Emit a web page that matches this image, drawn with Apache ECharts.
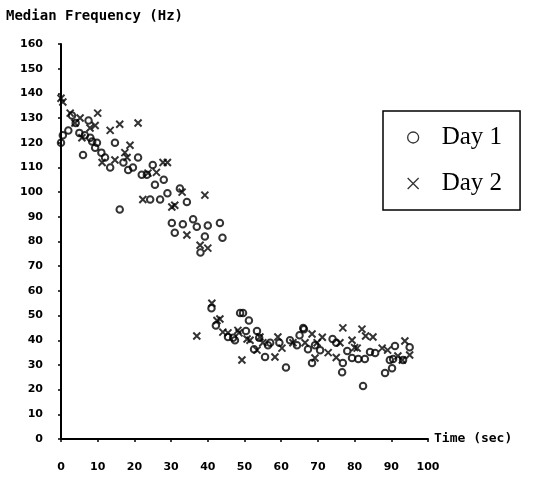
<!DOCTYPE html>
<html>
<head>
<meta charset="utf-8">
<script src="https://cdn.jsdelivr.net/npm/echarts@6/dist/echarts.min.js"></script>
<style>
  html, body { margin: 0; padding: 0; background: #fff; }
  #chart { width: 545px; height: 477px; }
</style>
</head>
<body>
<div id="chart"></div>
<script>
// Day 1 (circles): [time sec, median frequency Hz]
const day1 = [
  [0, 120], [0.5, 123], [2, 125], [3, 131], [4, 128], [5, 124], [6.5, 123], [7.5, 129],
  [8, 122], [8.5, 120.5], [9.3, 118], [9.8, 120], [6, 115], [14.7, 120], [11, 116], [12, 114],
  [13.4, 110], [17, 112], [18.3, 109], [19.6, 110], [21, 114], [22, 107], [23.4, 107], [25, 111],
  [28, 105], [25.6, 103], [29, 99.5], [32.4, 101.5], [34.3, 96], [24.3, 97], [27, 97], [16, 93],
  [30.2, 87.5], [33.2, 87], [36, 89], [37, 86], [40, 86.5], [43.3, 87.5], [31, 83.5], [39.2, 82],
  [44, 81.5], [38, 75.5],
  [41, 53], [42.2, 46], [48.8, 51], [49.6, 51], [51.2, 48], [45.5, 41.3], [46.9, 41], [47.4, 40],
  [50.4, 43.7], [53.4, 43.7], [52.6, 36.4], [55.6, 33.2], [61.3, 29], [57, 39], [59.5, 39],
  [62.4, 40], [64.3, 38], [65, 42], [66.2, 44.5], [68.4, 30.8], [67.3, 36.4], [69.2, 38],
  [70.6, 36], [74, 40.5], [75, 39], [76.6, 27], [78, 35.6], [79.3, 32.8], [81, 32.4],
  [82.8, 32.4], [76.8, 30.8], [82.3, 21.5], [84.2, 35.2], [85.6, 34.8], [91, 37.7], [95, 37.2],
  [89.6, 32], [90.5, 32.4], [88.3, 26.7], [90.2, 28.7], [93.2, 32], [54, 41], [56.4, 38], [66, 45]
];

// Day 2 (crosses)
const day2 = [
  [0, 138], [0.5, 136.5], [2.5, 132], [3.8, 128], [5.2, 130], [5.7, 122], [7.9, 126], [9.3, 127],
  [10, 132], [13.4, 125], [16, 127.5], [21, 128], [11.2, 112], [14.7, 113], [17.4, 116],
  [18.8, 119], [18, 114], [23.7, 107.7], [26, 108], [27.8, 112], [29, 112], [22.3, 97], [33, 100],
  [30.2, 94], [31, 94.7], [39.2, 98.8], [34.3, 82.6], [37.9, 78.5], [40, 77.3],
  [37, 41.7], [41.1, 55], [42.5, 48], [43.3, 48.6], [44.1, 43.3], [45.5, 43], [48.2, 44],
  [48.5, 43], [50.7, 40.5], [51.5, 40], [49.3, 32], [53.4, 36], [54.2, 41.3], [55, 39],
  [58.3, 33.2], [59.1, 41.3], [60.2, 36.8], [63.2, 39], [66.5, 39], [68.4, 42.5], [69.2, 32.8],
  [71.2, 41.2], [69.8, 39], [72.8, 35], [75, 33], [76, 39], [76.8, 45], [79.3, 40], [80, 37],
  [82, 44.5], [83, 41.7], [85, 41.3], [80.7, 36.8], [87.5, 36.8], [89, 36], [93.7, 39.7],
  [91.8, 33.6], [93, 32], [95, 34]
];

const seriesNames = ['Day 1', 'Day 2'];
const titleText = 'Median Frequency (Hz)';
const xName = 'Time (sec)';

const pixelFont = 'DejaVu Sans Mono';
const labelFont = 'DejaVu Sans';

const chart = echarts.init(document.getElementById('chart'));

const option = {
  backgroundColor: '#fff',
  animation: false,
  title: {
    text: titleText,
    left: 1,
    top: 4,
    textStyle: { fontFamily: pixelFont, fontWeight: 'bold', fontSize: 14, color: '#000' }
  },
  legend: {
    orient: 'vertical',
    left: 383,
    top: 111,
    padding: [14, 18, 14, 24],
    itemGap: 21,
    itemWidth: 11,
    itemHeight: 11,
    borderColor: '#000',
    borderWidth: 1.5,
    borderRadius: 0,
    data: seriesNames,
    itemStyle: { borderWidth: 1.3 },
    textStyle: {
      fontFamily: 'Liberation Serif',
      fontSize: 25,
      color: '#000',
      padding: [0, 0, 0, 18]
    }
  },
  grid: { left: 61, right: 117, top: 44, bottom: 38 },
  xAxis: {
    type: 'value',
    min: 0,
    max: 100,
    interval: 10,
    name: xName,
    nameLocation: 'end',
    nameGap: 6,
    nameTextStyle: { fontFamily: pixelFont, fontWeight: 'bold', fontSize: 13, color: '#000', verticalAlign: 'middle', padding: [8, 0, 0, 0] },
    axisLine: { lineStyle: { color: '#000', width: 2 } },
    axisTick: { length: 3, lineStyle: { color: '#000', width: 1.5 } },
    axisLabel: { margin: 23, fontFamily: labelFont, fontWeight: 'bold', fontSize: 11, color: '#000' },
    splitLine: { show: false }
  },
  yAxis: {
    type: 'value',
    min: 0,
    max: 160,
    interval: 10,
    axisLine: { show: true, lineStyle: { color: '#000', width: 2 } },
    axisTick: { show: true, length: 3, lineStyle: { color: '#000', width: 1.5 } },
    axisLabel: { margin: 18, fontFamily: labelFont, fontWeight: 'bold', fontSize: 11, color: '#000' },
    splitLine: { show: false }
  },
  series: [
    {
      name: seriesNames[0],
      type: 'scatter',
      data: day1,
      symbol: 'circle',
      symbolSize: 6.5,
      itemStyle: { color: 'rgba(255,255,255,0)', borderColor: '#000', borderWidth: 2 }
    },
    {
      name: seriesNames[1],
      type: 'scatter',
      data: day2,
      symbol: 'path://M0,0L10,10M10,0L0,10',
      symbolSize: 7,
      itemStyle: { color: 'rgba(255,255,255,0)', borderColor: '#000', borderWidth: 2 }
    }
  ]
};

chart.setOption(option);
</script>
</body>
</html>
